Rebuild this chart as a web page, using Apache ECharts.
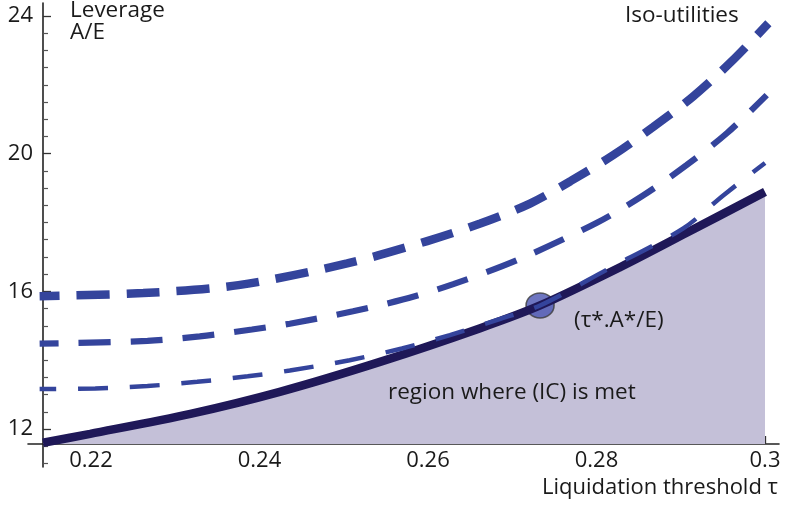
<!DOCTYPE html>
<html>
<head>
<meta charset="utf-8">
<script src="https://cdn.jsdelivr.net/npm/echarts@6/dist/echarts.min.js"></script>
<style>html,body{margin:0;padding:0;background:#fff}#c{width:790px;height:513px}</style>
</head>
<body>
<div id="c"></div>
<script>
// ---- data ----
const xLabelTicks = [0.22, 0.24, 0.26, 0.28, 0.30];
const xMinorTicks = [0.225, 0.23, 0.235, 0.245, 0.25, 0.255, 0.265, 0.27, 0.275, 0.285, 0.29, 0.295];
const yLabelTicks = [12, 16, 20, 24];
const yMinorTicks = [11, 11.5, 12.5, 13, 13.5, 14, 14.5, 15, 15.5, 16.5, 17, 17.5, 18, 18.5, 19, 19.5, 20.5, 21, 21.5, 22, 22.5, 23, 23.5];

// IC boundary (solid) [tau, leverage]
const icCurve = [[0.2143, 11.60], [0.2199, 11.86], [0.2318, 12.44], [0.2424, 13.08], [0.2543, 13.95], [0.2662, 14.93], [0.2733, 15.59], [0.2828, 16.70], [0.2907, 17.70], [0.3000, 18.89]];
// iso-utility curves (dashed), top to bottom
const isoHigh = [[0.2139, 15.86], [0.2262, 15.95], [0.2375, 16.18], [0.2504, 16.81], [0.2599, 17.46], [0.2662, 17.97], [0.2721, 18.55], [0.2769, 19.20], [0.2820, 19.96], [0.2867, 20.77], [0.2915, 21.67], [0.2962, 22.72], [0.3004, 23.79]];
const isoMid = [[0.2139, 14.48], [0.2267, 14.56], [0.2329, 14.69], [0.2391, 14.89], [0.2436, 15.06], [0.2511, 15.42], [0.2570, 15.76], [0.2630, 16.21], [0.2709, 16.94], [0.2801, 18.00], [0.2855, 18.78], [0.2907, 19.67], [0.2955, 20.60], [0.3002, 21.70]];
const isoLow = [[0.2139, 13.16], [0.2205, 13.18], [0.2267, 13.25], [0.2326, 13.37], [0.2386, 13.53], [0.2436, 13.70], [0.2507, 14.00], [0.2569, 14.34], [0.2626, 14.73], [0.2686, 15.20], [0.2733, 15.59], [0.2813, 16.64], [0.2903, 17.83], [0.2950, 18.78], [0.3000, 19.73]];
const optimum = [[0.2733, 15.59]];

const xMin = 0.21252, xMax = 0.30166, yMin = 10.896, yMax = 24.378;
const xAxisAtY = 11.564;

const FONT = '"Open Sans", "DejaVu Sans", sans-serif';
const TXT = '#1a1a1a';
const BLUE = '#34449c';

const chart = echarts.init(document.getElementById('c'), null, {renderer: 'canvas'});

function fmtX(v) { return Math.abs(v - 0.3) < 1e-9 ? '0.3' : v.toFixed(2); }

const option = {
  animation: false,
  backgroundColor: '#ffffff',
  grid: {left: 28, right: 11, top: 3, bottom: 46, containLabel: false},
  xAxis: [{
    type: 'value', min: xMin, max: xMax, offset: -23,
    axisLine: {show: true, onZero: false, lineStyle: {color: '#222', width: 1.6}},
    axisTick: {show: true, inside: true, length: 8, lineStyle: {color: '#333', width: 1.3}, customValues: xLabelTicks},
    axisLabel: {show: true, margin: 6, color: TXT, fontFamily: FONT, fontSize: 22, customValues: xLabelTicks, formatter: fmtX},
    splitLine: {show: false}
  }, {
    type: 'value', min: xMin, max: xMax, offset: -23, position: 'bottom',
    axisLine: {show: false, onZero: false},
    axisTick: {show: true, inside: true, length: 5, lineStyle: {color: '#333', width: 1.2}, customValues: xMinorTicks},
    axisLabel: {show: false},
    splitLine: {show: false}
  }],
  yAxis: [{
    type: 'value', min: yMin, max: yMax, offset: -15,
    axisLine: {show: true, onZero: false, lineStyle: {color: '#222', width: 1.6}},
    axisTick: {show: true, inside: true, length: 8, lineStyle: {color: '#333', width: 1.3}, customValues: yLabelTicks},
    axisLabel: {show: true, margin: 10, color: TXT, fontFamily: FONT, fontSize: 22, customValues: yLabelTicks},
    splitLine: {show: false}
  }, {
    type: 'value', min: yMin, max: yMax, offset: -15, position: 'left',
    axisLine: {show: false, onZero: false},
    axisTick: {show: true, inside: true, length: 5, lineStyle: {color: '#555', width: 1.2}, customValues: yMinorTicks},
    axisLabel: {show: false},
    splitLine: {show: false}
  }],
  series: [
    {type: 'line', name: 'region', data: icCurve, smooth: 0.3, showSymbol: false, symbol: 'none',
     lineStyle: {width: 0}, areaStyle: {color: '#c4c0d8', opacity: 1, origin: xAxisAtY}, z: 1},
    {type: 'scatter', name: 'opt', data: optimum, symbol: 'circle', symbolSize: [28, 25],
     itemStyle: {color: '#4a54b2', borderColor: '#3c3c3c', borderWidth: 1.5}, z: 2},
    {type: 'line', name: 'IC', data: icCurve, smooth: 0.3, showSymbol: false, symbol: 'none',
     lineStyle: {color: '#1f1858', width: 8.5, cap: 'butt'}, z: 3},
    {type: 'line', name: 'isoHigh', data: isoHigh, smooth: 0.3, showSymbol: false, symbol: 'none',
     lineStyle: {color: BLUE, width: 8.5, type: [33, 17], dashOffset: 13, cap: 'butt'}, z: 4},
    {type: 'line', name: 'isoMid', data: isoMid, smooth: 0.3, showSymbol: false, symbol: 'none',
     lineStyle: {color: BLUE, width: 6.2, type: [32, 20], dashOffset: 13, cap: 'butt'}, z: 4},
    {type: 'line', name: 'isoLow', data: isoLow, smooth: 0.3, showSymbol: false, symbol: 'none',
     lineStyle: {color: BLUE, width: 4.5, type: [30, 21.7], dashOffset: 13.3, cap: 'butt'}, z: 4}
  ],
  graphic: [
    {type: 'text', left: 70, top: -1, z: 10, style: {text: 'Leverage', font: '22.5px ' + FONT, fill: TXT}},
    {type: 'text', left: 70, top: 21, z: 10, style: {text: 'A/E', font: '22.5px ' + FONT, fill: TXT}},
    {type: 'text', left: 625, top: 4, z: 10, style: {text: 'Iso-utilities', font: '22.5px ' + FONT, fill: TXT}},
    {type: 'text', left: 574, top: 309, z: 10, style: {text: '(τ*.A*/E)', font: '22.5px ' + FONT, fill: TXT}},
    {type: 'text', left: 388, top: 381, z: 10, style: {text: 'region where (IC) is met', font: '22.5px ' + FONT, fill: TXT}},
    {type: 'text', right: 12, top: 477, z: 10, style: {text: 'Liquidation threshold τ', font: '22px ' + FONT, fill: TXT}}
  ]
};
chart.setOption(option);
</script>
</body>
</html>
